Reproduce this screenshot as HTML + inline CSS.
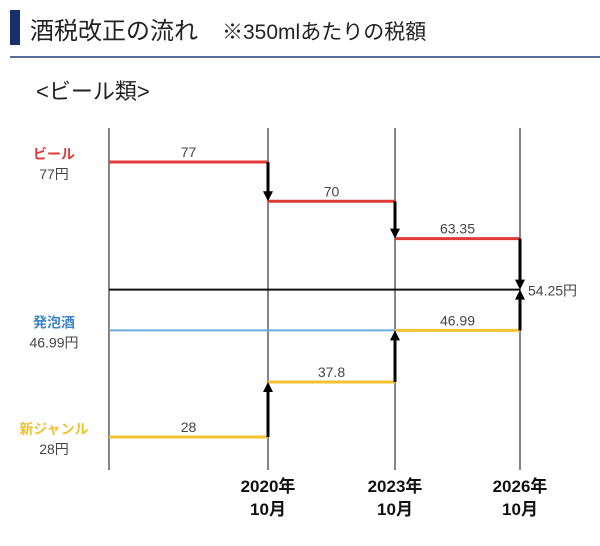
<!DOCTYPE html>
<html><head><meta charset="utf-8"><style>
body{margin:0;background:#fff;width:600px;height:541px;overflow:hidden;font-family:"Liberation Sans","Noto Sans CJK JP",sans-serif}
</style></head><body>
<svg id="c" width="600" height="541" xmlns="http://www.w3.org/2000/svg">
<rect x="10" y="10" width="10" height="35" fill="#1a2f6e"/>
<text x="30" y="39" font-size="24" fill="#222">酒税改正の流れ　<tspan font-size="21">※350mlあたりの税額</tspan></text>
<line x1="10" y1="57" x2="600" y2="57" stroke="#5a6f9a" stroke-width="2"/>
<text x="36" y="99" font-size="22" fill="#222">&lt;ビール類&gt;</text>
<g id="g"></g>
</svg>
<script>
const periods=['','2020年','2023年','2026年'];
const beer=[77,70,63.35,54.25];
const genre=[28,37.8,46.99,54.25];
const happoshu=[46.99,46.99,46.99,54.25];
const target=54.25;
const xs=[109,268,395,520];
const y=v=>162+(77-v)*5.612;
const g=document.getElementById('g');
const NS='http://www.w3.org/2000/svg';
function mk(t,a,name){const e=document.createElementNS(NS,t);for(const k in a)e.setAttribute(k,a[k]);


g.appendChild(e);return e;}
xs.forEach((x,i)=>{mk('line',{x1:x,y1:128,x2:x,y2:470,stroke:'#333','stroke-width':1.2},'gridline-'+i);
if(i>0){const t=mk('text',{x:x,y:492,'font-size':17,'font-weight':'bold','text-anchor':'middle',fill:'#111'},'x-label-'+i);t.textContent=periods[i];
const t2=mk('text',{x:x,y:515,'font-size':17,'font-weight':'bold','text-anchor':'middle',fill:'#111'},'x-sublabel-'+i);t2.textContent='10月';}});
mk('line',{x1:xs[0],y1:y(target),x2:xs[3],y2:y(target),stroke:'#111','stroke-width':2},'target-line');
mk('line',{x1:xs[0],y1:y(happoshu[0]),x2:xs[2],y2:y(happoshu[0]),stroke:'#6fa8dc','stroke-width':2},'happoshu-line');
function seg(arr,col,name,lblOff){for(let i=0;i<3;i++){
mk('line',{x1:xs[i],y1:y(arr[i]),x2:xs[i+1],y2:y(arr[i]),stroke:col,'stroke-width':3},name+'-step-'+i);
const t=mk('text',{x:(xs[i]+xs[i+1])/2,y:y(arr[i])-5,'font-size':14,'text-anchor':'middle',fill:'#444'},name+'-value-'+i);t.textContent=String(arr[i]);}}
seg(beer,'#e03a3a','beer');
seg(genre,'#f1c232','genre');
function arrow(x,v1,v2,name){const y1=y(v1),y2=y(v2);const d=y2>y1?1:-1;
mk('line',{x1:x,y1:y1,x2:x,y2:y2-d*7,stroke:'#000','stroke-width':3},name);
mk('polygon',{points:`${x-5},${y2-d*10} ${x+5},${y2-d*10} ${x},${y2}`,fill:'#000'},name+'-head');}
for(let i=1;i<4;i++){arrow(xs[i],beer[i-1],beer[i],'beer-arrow-'+i);arrow(xs[i],genre[i-1],genre[i],'genre-arrow-'+i);}
const lt=mk('text',{x:528,y:y(target)+6,'font-size':14,fill:'#444'},'target-value');lt.textContent=target+'円';
const labels=[['ビール','#e03a3a',beer[0]],['発泡酒','#3d85c6',happoshu[0]],['新ジャンル','#f1c232',genre[0]]];
labels.forEach((l,i)=>{const yy=y(l[2]);
const a=mk('text',{x:54,y:yy-3,'font-size':14,'font-weight':'bold','text-anchor':'middle',fill:l[1]},'series-name-'+i);a.textContent=l[0];
const b=mk('text',{x:54,y:yy+17,'font-size':14,'text-anchor':'middle',fill:'#444'},'series-start-'+i);b.textContent=l[2]+'円';});
</script>
</body></html>
